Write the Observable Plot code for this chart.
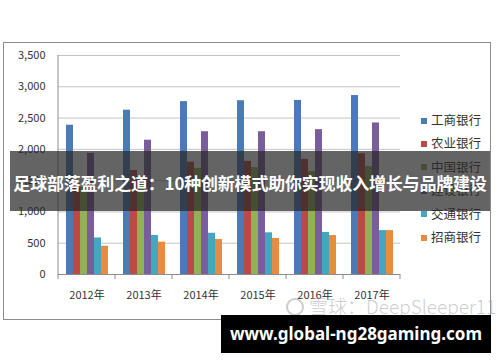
<!DOCTYPE html>
<html><head><meta charset="utf-8">
<script src="https://cdn.jsdelivr.net/npm/d3@7"></script>
<script src="https://cdn.jsdelivr.net/npm/@observablehq/plot@0.6"></script>
<style>
body{margin:0;background:#fff;}
#wrap{position:relative;width:500px;height:362px;overflow:hidden;background:#fff;font-family:'Noto Sans CJK SC','Noto Sans',sans-serif;}
#wrap svg{position:absolute;left:0;top:0;}
.frame{position:absolute;left:3px;top:42px;width:486px;height:276px;border:1px solid #8c8c8c;}
.legend{position:absolute;left:421px;top:108px;font-size:12.5px;color:#333;}
.legend .item{height:23.4px;line-height:23.4px;white-space:nowrap;}
.legend .sw{display:inline-block;width:6px;height:6px;margin-right:4px;vertical-align:middle;position:relative;top:-1px;}
.banner{position:absolute;left:10px;top:151px;width:480px;height:60px;background:rgba(40,40,40,0.72);color:#fff;font-weight:bold;font-size:17px;line-height:60px;text-align:center;white-space:nowrap;letter-spacing:-0.2px;}
.banner span{position:relative;top:2px;}
.wm{position:absolute;left:286px;top:292px;font-size:19px;color:rgba(170,170,170,0.6);font-family:'Noto Sans CJK SC','Noto Sans',sans-serif;white-space:nowrap;font-weight:300;}
.wm .logo{display:inline-block;width:14px;height:14px;border:2px solid rgba(170,170,170,0.6);border-radius:50%;margin-right:5px;vertical-align:middle;position:relative;top:-2px;}
.box{position:absolute;left:221px;top:315px;width:270px;height:38px;background:#000;color:#fff;font-weight:bold;font-size:17px;line-height:38px;text-align:center;font-family:'Noto Sans','DejaVu Sans',sans-serif;white-space:nowrap;}
</style></head><body><div id="wrap"></div><script>
const years = ["2012年","2013年","2014年","2015年","2016年","2017年"];
const banks = ["工商银行","农业银行","中国银行","建设银行","交通银行","招商银行"];
const icbc  = [2386, 2626, 2763, 2777, 2782, 2860];
const abc   = [1451, 1663, 1795, 1808, 1840, 1931];
const boc   = [1394, 1569, 1696, 1708, 1646, 1724];
const ccb   = [1936, 2146, 2282, 2282, 2315, 2422];
const bocom = [584, 623, 659, 666, 672, 702];
const cmb   = [452, 517, 560, 577, 622, 702];
const bankColors = ["#4a7bb8","#b94a47","#92b155","#7a5e9c","#45a6c0","#e88b40"];
const yTicks = [0, 500, 1000, 1500, 2000, 2500, 3000, 3500];
const title = "足球部落盈利之道：10种创新模式助你实现收入增长与品牌建设";
const siteText = "www.global-ng28gaming.com";
const watermark = "雪球：DeepSleeper11";

const series = [icbc, abc, boc, ccb, bocom, cmb];
const data = [];
years.forEach((yr, i) => banks.forEach((b, j) => data.push({year: yr, bank: b, value: series[j][i]})));

const plot = Plot.plot({
  width: 500, height: 362,
  marginTop: 55, marginBottom: 88, marginLeft: 58, marginRight: 100,
  style: {fontFamily: "'Noto Sans CJK SC','Noto Sans',sans-serif", fontSize: "11px", color: "#333", background: "transparent"},
  fx: {domain: years, padding: 0, label: null, tickSize: 0, tickPadding: 17, axis: "bottom"},
  x: {domain: banks, paddingInner: 0, paddingOuter: 0.8, axis: null},
  y: {domain: [0, 3500], ticks: yTicks, tickFormat: d3.format(","), tickSize: 0, tickPadding: 13, label: null},
  color: {domain: banks, range: bankColors},
  marks: [
    Plot.ruleY(yTicks.slice(1), {stroke: "#c4c4c4"}),
    Plot.barY(data, {fx: "year", x: "bank", y: "value", fill: "bank"}),
    Plot.ruleY([0], {stroke: "#8c8c8c"})
  ]
});

const wrap = document.getElementById("wrap");
wrap.appendChild(plot);

// axis line and category boundary ticks from the plot's own scales
const fx = plot.scale("fx"), y = plot.scale("y");
const g = d3.select(plot).append("g").attr("stroke", "#8c8c8c");
const y0 = y.apply(0), yTop = y.apply(3500);
const bounds = years.map(d => fx.apply(d)).concat([fx.apply(years[years.length - 1]) + fx.bandwidth]);
g.append("line").attr("x1", bounds[0]).attr("x2", bounds[0]).attr("y1", yTop).attr("y2", y0);
bounds.forEach(b => g.append("line").attr("x1", b).attr("x2", b).attr("y1", y0).attr("y2", y0 + 5));

const color = plot.scale("color");
const frame = document.createElement("div"); frame.className = "frame"; wrap.appendChild(frame);
const legend = document.createElement("div"); legend.className = "legend";
banks.forEach(b => {
  const it = document.createElement("div"); it.className = "item";
  const sw = document.createElement("span"); sw.className = "sw"; sw.style.background = color.apply(b);
  it.appendChild(sw); it.appendChild(document.createTextNode(b)); legend.appendChild(it);
});
wrap.appendChild(legend);
const wm = document.createElement("div"); wm.className = "wm";
wm.innerHTML = '<span class="logo"></span>'; wm.appendChild(document.createTextNode(watermark));
wrap.appendChild(wm);
const banner = document.createElement("div"); banner.className = "banner";
const bs = document.createElement("span"); bs.textContent = title; banner.appendChild(bs); wrap.appendChild(banner);
const box = document.createElement("div"); box.className = "box"; box.textContent = siteText; wrap.appendChild(box);
</script></body></html>
